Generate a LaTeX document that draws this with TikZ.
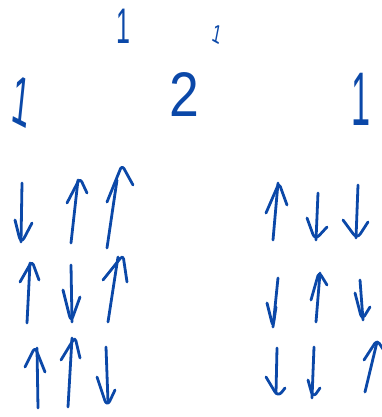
\documentclass[tikz,border=0pt]{standalone}
\usepackage{fontspec}
\setmainfont{Liberation Sans}
\usepackage{xcolor}
\definecolor{ink}{HTML}{0B48A8}

\begin{document}
\begin{tikzpicture}[
    x=1pt, y=-1pt,
    pen/.style={draw=ink, line width=2.8pt, line cap=round, line join=round},
    head/.style={pen, rounded corners=#1},
    head/.default={4pt},
    digit/.style={font=\fontsize{#1}{#1}\selectfont, text=ink, inner sep=0pt},
]
    \useasboundingbox (0,0) rectangle (381,417);

    % Top row of numbers
    \node[digit=50, xscale=0.5] (t1) at (123,26) {1};
    \node[digit=26, xscale=0.6, rotate=-18] (t2) at (217,34) {1};

    % Second row of numbers
    \node[digit=70, xscale=0.45, rotate=-13] (m1) at (21,101) {1};
    \node[digit=63, xscale=0.85] (m2) at (184,95) {2};
    \node[digit=76, xscale=0.45] (m3) at (361,99) {1};

    % Left block of spins — row 1
    \draw[pen] (22,183) -- (21,242);
    \draw[head=7pt] (15,220) -- (21,244) -- (32,223);
    \draw[pen] (71,243) -- (78,180);
    \draw[head] (67,203) -- (80,178) -- (87,193);
    \draw[pen] (107,248) -- (117,180);
    \draw[head] (107,202) -- (122,165) -- (133,185);

    % Left block — row 2
    \draw[pen] (27,323) -- (30,263);
    \draw[head] (20,282) -- (32,261) -- (39,280);
    \draw[pen] (71,265) -- (72,322);
    \draw[head=6pt] (63,290) -- (71,322) -- (80,297);
    \draw[pen] (108,322) -- (118,257);
    \draw[head] (103,280) -- (123,255) -- (127,282);

    % Left block — row 3
    \draw[pen] (38,408) -- (37,348);
    \draw[head] (25,367) -- (35,347) -- (45,372);
    \draw[pen] (68,407) -- (72,338);
    \draw[head] (61,360) -- (75,337) -- (80,358);
    \draw[pen] (106,347) -- (108,402);
    \draw[head=7pt] (97,377) -- (107,407) -- (115,390);

    % Right block of spins — row 1
    \draw[pen] (273,240) -- (278,183);
    \draw[head] (266,213) -- (279,183) -- (287,205);
    \draw[pen] (318,193) -- (316,240);
    \draw[head=6pt] (307,218) -- (315,240) -- (327,227);
    \draw[pen] (358,185) -- (356,238);
    \draw[head=6pt] (343,220) -- (357,239) -- (368,222);

    % Right block — row 2
    \draw[pen] (278,278) -- (273,327);
    \draw[head=5pt] (267,303) -- (273,327) -- (276,307);
    \draw[pen] (316,322) -- (320,273);
    \draw[head] (311,300) -- (319,272) -- (327,285);
    \draw[pen] (360,280) -- (363,320);
    \draw[head=5pt] (355,293) -- (362,320) -- (370,307);

    % Right block — row 3
    \draw[pen] (277,348) -- (276,393);
    \draw[head=6pt] (266,377) -- (278,397) -- (285,388);
    \draw[pen] (314,347) -- (312,398);
    \draw[head=6pt] (308,380) -- (313,398) -- (320,388);
    \draw[pen] (365,392) -- (377,342);
    \draw[head] (364,360) -- (377,340) -- (383,349);
\end{tikzpicture}
\end{document}
